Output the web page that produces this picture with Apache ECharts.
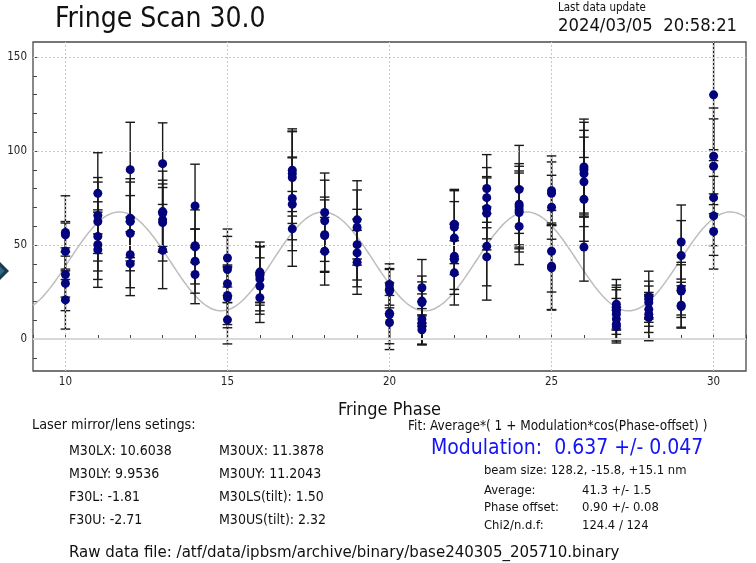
<!DOCTYPE html>
<html>
<head>
<meta charset="utf-8">
<script src="https://cdn.jsdelivr.net/npm/echarts@6/dist/echarts.min.js"></script>
<style>
  html, body { margin: 0; padding: 0; background: #fff; }
  #chart { width: 756px; height: 563px; }
</style>
</head>
<body>
<div id="chart"></div>
<script>
// Fringe phase settings of the scan
const phases = [10, 11, 12, 13, 14, 15, 16, 17, 18, 19, 20, 21, 22, 23, 24, 25, 26, 27, 28, 29, 30];

// Measured signal at each phase (one list per phase)
const signal = [
  [56.7, 55.5, 46.7, 34.3, 29.6, 20.8],
  [77.5, 65.7, 62.5, 54.6, 50.2, 47.5],
  [90.1, 64.3, 62.5, 56.3, 44.9, 40.1],
  [93.3, 67.8, 66.9, 63.4, 62.0, 47.2],
  [70.8, 49.6, 49.0, 41.4, 34.3],
  [43.1, 37.0, 29.4, 23.2, 22.0, 10.2],
  [35.6, 34.3, 33.8, 32.0, 28.2, 22.0],
  [89.8, 88.0, 85.9, 74.8, 71.7, 58.6],
  [67.3, 62.9, 55.5, 55.0, 46.7],
  [63.4, 59.3, 50.2, 45.8, 40.8],
  [29.0, 26.8, 25.5, 13.7, 13.0, 8.8],
  [27.3, 20.2, 19.4, 10.6, 8.5, 6.7, 4.9],
  [61.1, 59.5, 53.7, 44.0, 42.3, 35.2],
  [80.1, 75.2, 69.5, 66.9, 49.3, 43.7],
  [79.6, 71.7, 70.4, 68.7, 67.3, 59.9],
  [78.9, 77.5, 70.1, 46.7, 38.7, 37.9],
  [91.5, 90.1, 88.0, 83.6, 74.3, 48.9],
  [18.5, 16.7, 15.0, 13.2, 10.6, 7.9, 6.7],
  [22.5, 21.1, 19.4, 15.8, 13.2, 11.4],
  [51.6, 44.4, 26.8, 25.5, 18.0, 17.3],
  [129.9, 97.2, 91.9, 75.2, 65.5, 57.2]
];

// Symmetric uncertainty of each measurement
const sigma = [
  [19.5, 7.0, 15.0, 12.0, 14.5, 15.5],
  [21.6, 20.2, 21.0, 18.4, 18.5, 20.0],
  [25.2, 21.0, 21.0, 20.0, 17.6, 17.0],
  [21.7, 21.5, 17.6, 17.2, 20.5, 20.4],
  [22.2, 9.0, 19.7, 17.0, 15.5],
  [15.4, 17.6, 10.0, 15.5, 16.0, 12.8],
  [16.0, 15.0, 15.8, 17.0, 15.0, 13.2],
  [22.0, 22.6, 24.4, 22.0, 24.7, 19.9],
  [21.0, 21.6, 20.0, 19.0, 18.0],
  [20.8, 20.0, 18.8, 18.0, 17.0],
  [11.0, 10.2, 12.0, 16.2, 13.0, 14.4],
  [15.0, 13.3, 11.0, 13.4, 11.5, 9.5, 8.0],
  [18.5, 19.4, 19.4, 17.6, 18.5, 17.1],
  [18.0, 16.0, 16.2, 19.5, 21.0, 23.0],
  [23.4, 21.6, 21.5, 20.7, 21.0, 20.3],
  [18.5, 16.7, 17.0, 21.7, 23.0, 22.5],
  [25.5, 25.2, 23.0, 23.8, 22.3, 18.1],
  [13.2, 12.0, 12.5, 13.0, 11.0, 9.0, 8.8],
  [13.6, 9.7, 8.8, 9.0, 9.7, 12.3],
  [19.7, 18.6, 14.0, 14.0, 12.2, 11.0],
  [35.0, 25.7, 25.2, 25.5, 21.0, 20.0]
];

// Fit result: Average*(1 + Modulation*cos(Phase-offset))
const fitAverage = 41.3;
const fitModulation = 0.637;
const fitOffset = 0.90;

// Axis ticks and labels
const xTicks = [9, 10, 11, 12, 13, 14, 15, 16, 17, 18, 19, 20, 21, 22, 23, 24, 25, 26, 27, 28, 29, 30, 31];
const xLabels = [10, 15, 20, 25, 30];
const yTicks = [-10, 0, 10, 20, 30, 40, 50, 60, 70, 80, 90, 100, 110, 120, 130, 140, 150];
const yLabels = [0, 50, 100, 150];

// Build point and error-bar records
const points = [];
const bars = [];
phases.forEach((p, i) => {
  signal[i].forEach((v, j) => {
    points.push([p, v]);
    bars.push([p, v, sigma[i][j]]);
  });
});

// Fit curve sampled across the axis range
const fitCurve = [];
for (let k = 0; k <= 440; k++) {
  const x = 9 + k * 0.05;
  fitCurve.push([x, fitAverage * (1 + fitModulation * Math.cos(x + fitOffset))]);
}

const COND = '"DejaVu Sans Condensed", "DejaVu Sans", sans-serif';
const REG = '"DejaVu Sans", sans-serif';

function renderErrorBar(params, api) {
  const x = api.value(0), y = api.value(1), e = api.value(2);
  const top = api.coord([x, y + e]);
  const bot = api.coord([x, y - e]);
  const hw = 4.8;
  const style = { stroke: '#1a1a1a', lineWidth: 1.4 };
  return {
    type: 'group',
    children: [
      { type: 'line', shape: { x1: top[0], y1: top[1], x2: bot[0], y2: bot[1] }, style: style },
      { type: 'line', shape: { x1: top[0] - hw, y1: top[1], x2: top[0] + hw, y2: top[1] }, style: style },
      { type: 'line', shape: { x1: bot[0] - hw, y1: bot[1], x2: bot[0] + hw, y2: bot[1] }, style: style }
    ]
  };
}

function txt(text, x, y, size, family, fill) {
  return {
    type: 'text',
    style: {
      text: text, x: x, y: y,
      font: size + 'px ' + family,
      fill: fill || '#111',
      textVerticalAlign: 'middle'
    }
  };
}

const gridLineStyle = { color: '#c8c8c8', type: [2, 2], width: 1 };

const chart = echarts.init(document.getElementById('chart'), null, { renderer: 'canvas' });
chart.setOption({
  animation: false,
  backgroundColor: '#fff',
  grid: {
    left: 33, right: 10, top: 42, bottom: 192,
    show: true, borderColor: '#4a4a4a', borderWidth: 1.3, backgroundColor: '#fff'
  },
  xAxis: {
    type: 'value', min: 9, max: 31,
    name: 'Fringe Phase', nameLocation: 'middle', nameGap: 30,
    nameTextStyle: { fontFamily: COND, fontSize: 18, color: '#111' },
    axisLine: { show: false },
    splitLine: { show: false },
    axisTick: { show: true, inside: true, length: 4, customValues: xTicks, lineStyle: { color: '#444' } },
    axisLabel: { customValues: xLabels, margin: 5, fontFamily: COND, fontSize: 11.5, color: '#222' }
  },
  yAxis: {
    type: 'value', min: -17, max: 158,
    axisLine: { show: false },
    splitLine: { show: false },
    axisTick: { show: true, inside: true, length: 4, customValues: yTicks, lineStyle: { color: '#444' } },
    axisLabel: { customValues: yLabels, margin: 6, fontFamily: COND, fontSize: 11.5, color: '#222' }
  },
  graphic: [
    txt('Fringe Scan 30.0', 55, 20, 28, COND),
    txt('Last data update', 558, 8, 11.5, COND),
    txt('2024/03/05  20:58:21', 558, 26, 18.3, COND),
    txt('Laser mirror/lens setings:', 32, 425, 14.3, COND),
    txt('M30LX: 10.6038', 69, 451, 14, COND),
    txt('M30LY: 9.9536', 69, 474, 14, COND),
    txt('F30L: -1.81', 69, 497, 14, COND),
    txt('F30U: -2.71', 69, 520, 14, COND),
    txt('M30UX: 11.3878', 219, 451, 14, COND),
    txt('M30UY: 11.2043', 219, 474, 14, COND),
    txt('M30LS(tilt): 1.50', 219, 497, 14, COND),
    txt('M30US(tilt): 2.32', 219, 520, 14, COND),
    txt('Raw data file: /atf/data/ipbsm/archive/binary/base240305_205710.binary', 69, 553, 16.7, COND),
    txt('Fit: Average*( 1 + Modulation*cos(Phase-offset) )', 408, 426, 13.5, COND),
    txt('Modulation:  0.637 +/- 0.047', 431, 449, 21, COND, '#1414f5'),
    txt('beam size: 128.2, -15.8, +15.1 nm', 484, 471, 11.6, REG),
    txt('Average:', 484, 491, 11.6, REG),
    txt('41.3 +/- 1.5', 582, 491, 11.6, REG),
    txt('Phase offset:', 484, 508, 11.6, REG),
    txt('0.90 +/- 0.08', 582, 508, 11.6, REG),
    txt('Chi2/n.d.f:', 484, 526, 11.6, REG),
    txt('124.4 / 124', 582, 526, 11.6, REG),
    {
      type: 'polygon',
      shape: { points: [[0, 262], [9, 271], [0, 280]] },
      style: { fill: '#1c3b50' }
    },
    {
      type: 'polygon',
      shape: { points: [[0, 266.5], [4.5, 271], [0, 275.5]] },
      style: { fill: '#2c6a86' }
    }
  ],
  series: [
    {
      type: 'line',
      data: fitCurve,
      showSymbol: false,
      smooth: false,
      silent: true,
      z: 1,
      lineStyle: { color: '#bdbdbd', width: 1.5 },
      markLine: {
        silent: true,
        symbol: 'none',
        label: { show: false },
        lineStyle: gridLineStyle,
        data: [
          { xAxis: 10 }, { xAxis: 15 }, { xAxis: 20 }, { xAxis: 25 }, { xAxis: 30 },
          { yAxis: 50 }, { yAxis: 100 }, { yAxis: 150 },
          { yAxis: 0, lineStyle: { color: '#d9d9d9', type: 'solid', width: 2 } }
        ]
      }
    },
    {
      type: 'custom',
      renderItem: renderErrorBar,
      data: bars,
      clip: true,
      z: 2,
      encode: { x: 0, y: [1, 2] }
    },
    {
      type: 'scatter',
      data: points,
      symbol: 'circle',
      symbolSize: 9,
      zlevel: 1,
      z: 5,
      silent: true,
      itemStyle: { color: '#03037e', opacity: 1, borderWidth: 0 }
    }
  ]
});
</script>
</body>
</html>
